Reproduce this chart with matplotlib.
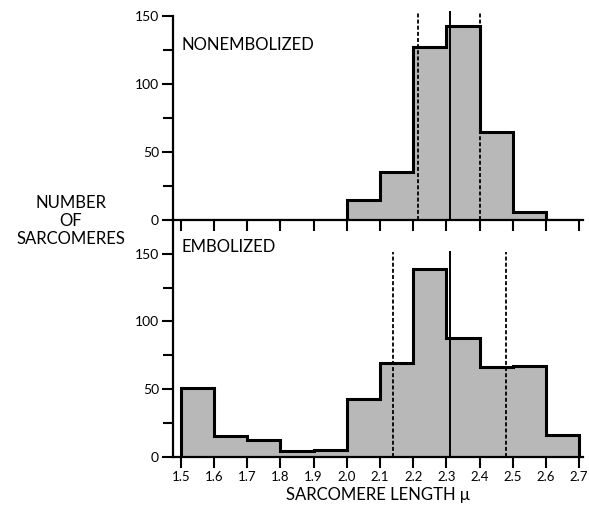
import numpy as np
import matplotlib.pyplot as plt

# sarcomere length bins (micron) and counts
bin_edges = [1.5, 1.6, 1.7, 1.8, 1.9, 2.0, 2.1, 2.2, 2.3, 2.4, 2.5, 2.6, 2.7]
nonembolized = [0, 0, 0, 0, 0, 15, 35, 127, 143, 65, 6, 0]
embolized = [51, 15, 12, 4, 5, 43, 69, 139, 88, 66, 67, 16]

# mean (solid) and mean +/- sd (dashed) markers
nonemb_mean = 2.31
nonemb_sd_lines = [2.215, 2.40]
emb_mean = 2.31
emb_sd_lines = [2.14, 2.48]

tick_labels = ["1.5", "1.6", "1.7", "1.8", "1.9", "2.0", "2.1",
               "2.2", "2.3", "2.4", "2.5", "2.6", "2.7"]

plt.rcParams['font.family'] = ['Lato', 'DejaVu Sans']

fill_col = '#b8b8b8'
W, H = 589, 508
fig = plt.figure(figsize=(W / 100, H / 100), dpi=100)
ax1 = fig.add_axes([173 / W, 288 / H, 410 / W, 204 / H])
ax2 = fig.add_axes([173 / W, 51.3 / H, 410 / W, 236.7 / H])
# lower panel overlaps the upper panel's tick marks, keep it see-through
ax2.patch.set_visible(False)


def draw_hist(ax, counts, mean, sd_lines, top):
    ax.stairs(counts, bin_edges, fill=True, color=fill_col, linewidth=0)
    ax.stairs(counts, bin_edges, baseline=0, color='black', linewidth=2.2)
    ax.plot([mean, mean], [0, top], color='black', lw=1.4, clip_on=False)
    for x in sd_lines:
        ax.plot([x, x], [0, top], color='black', lw=1.3,
                linestyle=(0, (2.2, 1.2)), clip_on=False)
    ax.set_xlim(1.476, 2.712)
    ax.set_xticks(bin_edges)
    ax.set_yticks([0, 50, 100, 150])
    ax.set_yticks([25, 75, 125], minor=True)
    for s in ['top', 'right']:
        ax.spines[s].set_visible(False)
    for s in ['left', 'bottom']:
        ax.spines[s].set_linewidth(1.6)
    ax.tick_params(which='both', width=1.5, labelsize=10, pad=2)
    ax.tick_params(which='major', length=8)
    ax.tick_params(which='minor', length=7)


draw_hist(ax1, nonembolized, nonemb_mean, nonemb_sd_lines, 153)
ax1.set_ylim(0, 150)
ax1.set_xticklabels([])
ax1.text(0.02, 0.86, "NONEMBOLIZED", transform=ax1.transAxes,
         fontsize=12, va='center', ha='left')

draw_hist(ax2, embolized, emb_mean, emb_sd_lines, 151)
ax2.set_ylim(0, 175)
ax2.set_xticklabels(tick_labels)
ax2.tick_params(axis='x', labelsize=9.5)
ax2.text(0.02, 0.885, "EMBOLIZED", transform=ax2.transAxes,
         fontsize=12, va='center', ha='left')
ax2.set_xlabel("SARCOMERE LENGTH μ", fontsize=12, labelpad=3)

fig.text(71 / W, 1 - 221 / H, "NUMBER\nOF\nSARCOMERES", ha='center',
         va='center', fontsize=12, linespacing=1.15)

fig.savefig("out.png", dpi=100)
